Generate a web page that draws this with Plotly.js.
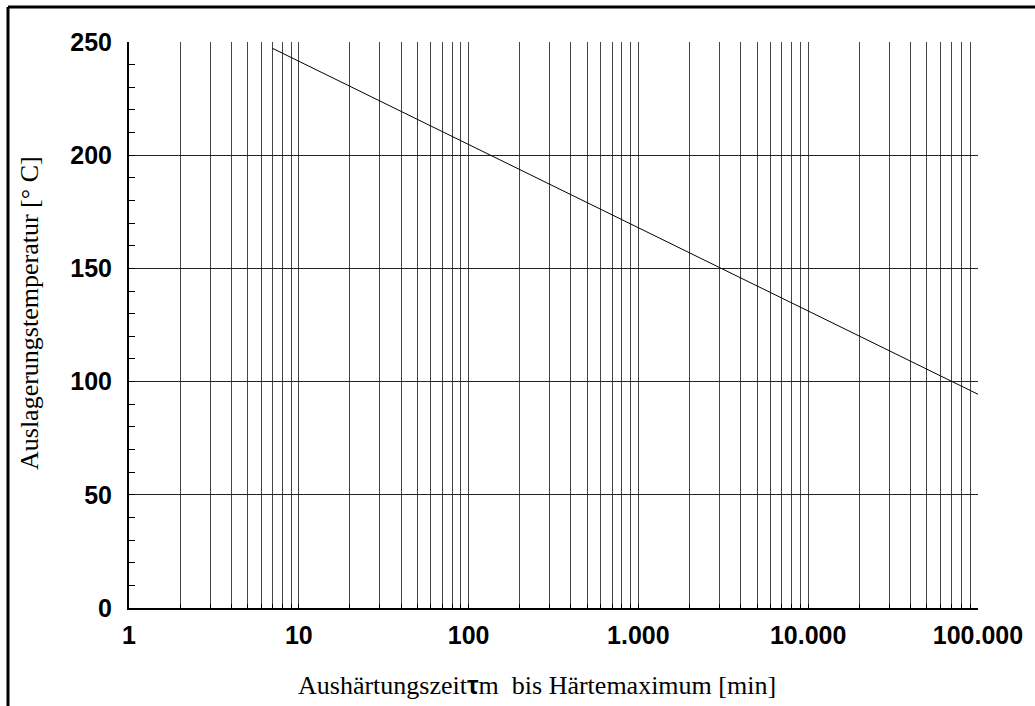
<!DOCTYPE html>
<html>
<head>
<meta charset="utf-8">
<script src="https://cdn.plot.ly/plotly-3.0.1.min.js"></script>
<style>html,body{margin:0;padding:0;background:#fff;}#chart{width:1035px;height:706px;}</style>
</head>
<body>
<div id="chart"></div>
<script>
// Data
const lineTime = [7, 100000];          // Aushärtungszeit τm [min]
const lineTemp = [247.2, 94.4];        // Auslagerungstemperatur [°C]

const xTickVals = [1, 10, 100, 1000, 10000, 100000];
const xTickText = ['1', '10', '100', '1.000', '10.000', '100.000'];
const xMinorDigits = [2, 3, 4, 5, 6, 7, 8, 9];
const yTickVals = [0, 50, 100, 150, 200, 250];

const xMinorVals = [];
xTickVals.slice(0, -1).forEach(d => xMinorDigits.forEach(m => xMinorVals.push(d * m)));

const W = 1035, H = 706;
const L = 129, R = 978, T = 42, B = 608;
const px = v => (v - L) / (R - L);
const py = v => (B - v) / (B - T);

const tickFont = {family: 'Liberation Sans, Arial, sans-serif', size: 25, color: '#000', weight: 'bold'};
const titleFont = {family: 'Liberation Serif, Times New Roman, serif', size: 26, color: '#000'};

const trace = {
  x: lineTime, y: lineTemp, type: 'scatter', mode: 'lines',
  line: {color: '#000', width: 1}, hoverinfo: 'skip', showlegend: false
};

const layout = {
  width: W, height: H,
  margin: {l: L, r: W - R, t: T, b: H - B},
  paper_bgcolor: '#fff', plot_bgcolor: '#fff',
  showlegend: false,
  xaxis: {
    type: 'log', range: [0, 5], tickmode: 'array',
    tickvals: xTickVals, ticktext: xTickText,
    tickfont: tickFont, ticks: 'inside', ticklen: 4, tickcolor: '#000', tickwidth: 1,
    showgrid: true, gridcolor: '#444', gridwidth: 1,
    showline: true, linecolor: '#000', linewidth: 2,
    zeroline: false, ticklabelstandoff: 4,
    minor: {tickmode: 'array', tickvals: xMinorVals, ticks: 'inside', ticklen: 4, tickcolor: '#000',
            showgrid: true, gridcolor: '#444', gridwidth: 1}
  },
  yaxis: {
    range: [0, 250], tickmode: 'array', tickvals: yTickVals,
    tickfont: tickFont, ticks: 'inside', ticklen: 6, tickcolor: '#000', tickwidth: 1,
    showgrid: true, gridcolor: '#222', gridwidth: 1,
    showline: true, linecolor: '#000', linewidth: 2,
    zeroline: false, ticklabelstandoff: 10,
    minor: {dtick: 10, ticks: 'inside', ticklen: 6, tickcolor: '#000', showgrid: false}
  },
  annotations: [
    {xref: 'paper', yref: 'paper', x: px(537), y: py(685), xanchor: 'center', yanchor: 'middle',
     text: 'Aushärtungszeit<b><span style="font-family:Liberation Sans, Arial, sans-serif">τ</span></b>m  bis Härtemaximum [min]',
     showarrow: false, font: titleFont},
    {xref: 'paper', yref: 'paper', x: px(29), y: py(313), xanchor: 'center', yanchor: 'middle',
     text: 'Auslagerungstemperatur [° C]', textangle: -90, showarrow: false, font: titleFont}
  ],
  shapes: [
    {type: 'line', xref: 'paper', yref: 'paper', x0: px(8), x1: px(1035), y0: py(7), y1: py(7),
     line: {color: '#000', width: 3}},
    {type: 'line', xref: 'paper', yref: 'paper', x0: px(8), x1: px(8), y0: py(7), y1: py(706),
     line: {color: '#000', width: 3}}
  ]
};

Plotly.newPlot('chart', [trace], layout, {displayModeBar: false, staticPlot: true});
</script>
</body>
</html>
